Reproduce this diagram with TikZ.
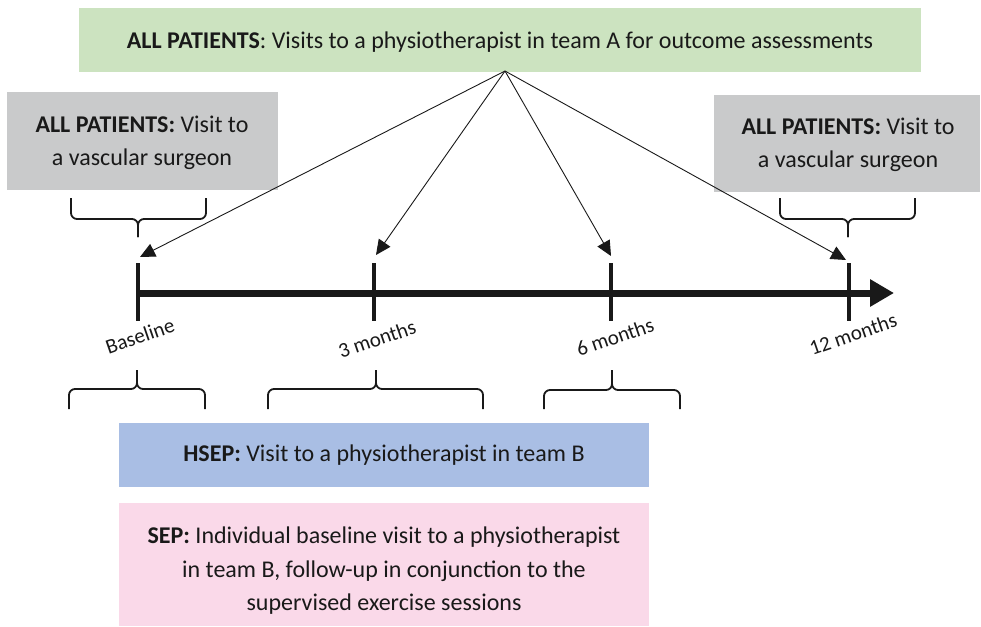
\documentclass[tikz,border=0pt]{standalone}
\usepackage{fontspec}
\setmainfont{Carlito}
\usetikzlibrary{arrows.meta}
\definecolor{boxgreen}{RGB}{204,227,192}
\definecolor{boxgray}{RGB}{201,202,203}
\definecolor{boxblue}{RGB}{169,190,228}
\definecolor{boxpink}{RGB}{250,217,233}
\begin{document}
\begin{tikzpicture}[x=1pt,y=-1pt,
  txt/.style={font=\fontsize{24}{33.5}\selectfont, text=black!90, align=center, inner sep=0pt},
  lbl/.style={font=\fontsize{21}{24}\selectfont, text=black!90, rotate=19, inner sep=0pt},
  pointer/.style={draw=black!90, line width=0.9pt, -{Triangle[length=15pt,width=14pt]}},
  bracestyle/.style={draw=black!90, line width=1.8pt, rounded corners=6pt},
  tickstyle/.style={draw=black!90, line width=4pt}]
\useasboundingbox (0,0) rectangle (981,626);
% boxes
\fill[boxgreen] (79,8) rectangle (921,72);
\node[txt] (top) at (500,42) {\textbf{ALL PATIENTS}: Visits to a physiotherapist in team A for outcome assessments};
\fill[boxgray] (7,92) rectangle (278,190);
\node[txt] (lsurg) at (142,143) {\textbf{ALL PATIENTS:} Visit to\\a vascular surgeon};
\fill[boxgray] (714,95) rectangle (980,192);
\node[txt] (rsurg) at (848,145) {\textbf{ALL PATIENTS:} Visit to\\a vascular surgeon};
\fill[boxblue] (119,423) rectangle (649,487);
\node[txt] (hsep) at (384,455) {\textbf{HSEP:} Visit to a physiotherapist in team B};
\fill[boxpink] (119,503) rectangle (649,626);
\node[txt] (sep) at (384,571) {\textbf{SEP:} Individual baseline visit to a physiotherapist\\in team B, follow-up in conjunction to the\\supervised exercise sessions};
% timeline
\coordinate (tstart) at (137,293);
\coordinate (tend) at (894,293);
\draw[draw=black!90, line width=7pt, -{Triangle[length=24pt,width=26pt]}] (tstart) -- (tend);
\foreach \n/\x in {b/138,m3/374,m6/611,m12/849}{
  \draw[tickstyle] (\x,263) -- (\x,321);
  \coordinate (\n) at (\x,258);
}
% labels
\node[lbl] (lb) at (140,336) {Baseline};
\node[lbl] (l3) at (377,339) {3 months};
\node[lbl] (l6) at (615,337) {6 months};
\node[lbl] (l12) at (853,334) {12 months};
% pointers
\coordinate (apex) at (505,71);
\draw[pointer] (apex) -- (140,257);
\draw[pointer] (apex) -- (376,255);
\draw[pointer] (apex) -- (611,256);
\draw[pointer] (apex) -- (846,260);
% upper braces
\draw[bracestyle] (71,198) -- (71,219) -- (138,219) -- (138,237);
\draw[bracestyle] (206,198) -- (206,219) -- (138,219) -- (138,237);
\draw[bracestyle] (780,198) -- (780,219) -- (848,219) -- (848,237);
\draw[bracestyle] (915,198) -- (915,219) -- (848,219) -- (848,237);
% lower braces
\draw[bracestyle] (69,409) -- (69,389) -- (137,389) -- (137,370);
\draw[bracestyle] (205,409) -- (205,389) -- (137,389) -- (137,370);
\draw[bracestyle] (268,409) -- (268,389) -- (376,389) -- (376,370);
\draw[bracestyle] (483,409) -- (483,389) -- (376,389) -- (376,370);
\draw[bracestyle] (544,409) -- (544,390) -- (612,390) -- (612,370);
\draw[bracestyle] (680,409) -- (680,390) -- (612,390) -- (612,370);
\end{tikzpicture}
\end{document}
